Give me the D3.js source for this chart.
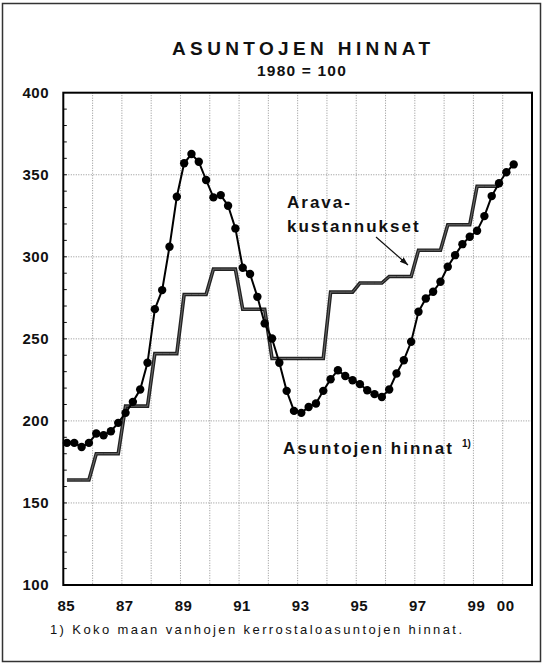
<!DOCTYPE html>
<html>
<head>
<meta charset="utf-8">
<script src="https://cdn.jsdelivr.net/npm/d3@7"></script>
<style>
  body { margin: 0; background: #fff; }
  svg { display: block; }
  text { font-family: "Liberation Sans", Arial, sans-serif; fill: #111; }
</style>
</head>
<body>
<div id="chart"></div>
<script>
// Neljännesvuosisarjat 1985 Q1 ->
const startYear = 1985;

// Asuntojen hinnat (pisteet), 1985 Q1 - 2000 Q2
const priceIndex = [
  186.6, 186.6, 184.1, 186.6, 192.3, 191.3, 193.7, 198.8,
  204.9, 211.6, 219.1, 235.4, 268.1, 279.7, 306.1, 336.6,
  357.0, 362.6, 357.9, 346.8, 336.2, 337.6, 331.1, 317.3,
  293.3, 289.5, 275.6, 259.4, 250.2, 235.4, 218.3, 206.1,
  204.9, 208.5, 210.6, 218.3, 225.4, 230.9, 227.4, 224.8,
  222.4, 218.7, 216.3, 214.6, 219.1, 228.9, 237.0, 248.2,
  266.5, 274.6, 278.7, 284.8, 293.9, 301.0, 307.7, 312.2,
  315.9, 324.8, 337.0, 344.8, 351.5, 356.3
];

// Arava-kustannukset, 1985 Q1 - 1999 Q4
const aravaIndex = [
  164, 164, 164, 164, 180, 180, 180, 180,
  209, 209, 209, 209, 241, 241, 241, 241,
  277, 277, 277, 277, 292.5, 292.5, 292.5, 292.5,
  268, 268, 268, 268, 238, 238, 238, 238,
  238, 238, 238, 238, 278.5, 278.5, 278.5, 278.5,
  284, 284, 284, 284, 288, 288, 288, 288,
  304, 304, 304, 304, 319.5, 319.5, 319.5, 319.5,
  343, 343, 343, 343
];

const yTicks = [100, 150, 200, 250, 300, 350, 400];
const xLabelYears = [1985, 1987, 1989, 1991, 1993, 1995, 1997, 1999, 2000];
const xLabels = ["85", "87", "89", "91", "93", "95", "97", "99", "00"];

const width = 544, height = 665;

const svg = d3.select("#chart").append("svg")
    .attr("width", width).attr("height", height);

const x = d3.scaleLinear().domain([1985, 2001]).range([63.3, 532]);
const y = d3.scaleLinear().domain([100, 400]).range([585, 92.7]);

// kvartaalin keskikohta
const qx = (d, i) => x(startYear + (i + 0.5) / 4);

// ulkokehys
svg.append("rect")
    .attr("x", 2.5).attr("y", 3.5)
    .attr("width", 538).attr("height", 658)
    .attr("fill", "none")
    .attr("stroke", "#333")
    .attr("stroke-width", 1.5);

// Otsikot
svg.append("text")
    .attr("x", 301).attr("y", 55)
    .attr("text-anchor", "middle")
    .attr("font-size", 19).attr("font-weight", "bold")
    .attr("textLength", 258).attr("lengthAdjust", "spacing")
    .text("ASUNTOJEN HINNAT");

svg.append("text")
    .attr("x", 302).attr("y", 76)
    .attr("text-anchor", "middle")
    .attr("font-size", 15.5).attr("font-weight", "bold")
    .style("letter-spacing", "1.2px")
    .text("1980 = 100");

// Ruudukko
const grid = svg.append("g")
    .attr("stroke", "#777")
    .attr("stroke-width", 0.8)
    .attr("stroke-dasharray", "1,1.5");

grid.selectAll(".vgrid")
    .data(d3.range(1986, 2001))
    .enter().append("line")
    .attr("x1", d => x(d)).attr("x2", d => x(d))
    .attr("y1", y(400)).attr("y2", y(100));

grid.selectAll(".hgrid")
    .data(yTicks.slice(1, -1))
    .enter().append("line")
    .attr("x1", x(1985)).attr("x2", x(2001))
    .attr("y1", d => y(d)).attr("y2", d => y(d));

// pienet tikit vasemmalla
svg.append("g").selectAll("line")
    .data(d3.range(110, 400, 10))
    .enter().append("line")
    .attr("x1", x(1985)).attr("x2", x(1985) + 3.5)
    .attr("y1", d => y(d)).attr("y2", d => y(d))
    .attr("stroke", "#111")
    .attr("stroke-width", 1);

// Y-akselin luvut
svg.append("g").selectAll("text")
    .data(yTicks)
    .enter().append("text")
    .attr("x", 49).attr("y", d => y(d))
    .attr("dy", "0.36em")
    .attr("text-anchor", "end")
    .attr("font-size", 15).attr("font-weight", "bold")
    .style("letter-spacing", "0.5px")
    .text(d => d);

// X-akselin luvut
svg.append("g").selectAll("text")
    .data(xLabels)
    .enter().append("text")
    .attr("x", (d, i) => x(xLabelYears[i]) + 3)
    .attr("y", 611)
    .attr("text-anchor", "middle")
    .attr("font-size", 15).attr("font-weight", "bold")
    .style("letter-spacing", "0.5px")
    .text(d => d);

// Arava-kustannukset: paksu tumma viiva
const line = d3.line().x(qx).y(d => y(d));

svg.append("path")
    .datum(aravaIndex)
    .attr("d", line)
    .attr("fill", "none")
    .attr("stroke", "#222")
    .attr("stroke-width", 3.6)
    .attr("stroke-linejoin", "miter");

svg.append("path")
    .datum(aravaIndex)
    .attr("d", line)
    .attr("fill", "none")
    .attr("stroke", "#6a6a6a")
    .attr("stroke-width", 1);

// Asuntojen hinnat
svg.append("path")
    .datum(priceIndex)
    .attr("d", line)
    .attr("fill", "none")
    .attr("stroke", "#000")
    .attr("stroke-width", 2);

svg.append("g").selectAll("circle")
    .data(priceIndex)
    .enter().append("circle")
    .attr("cx", qx)
    .attr("cy", d => y(d))
    .attr("r", 4.2)
    .attr("fill", "#000");

// kehys
svg.append("rect")
    .attr("x", x(1985)).attr("y", y(400))
    .attr("width", x(2001) - x(1985))
    .attr("height", y(100) - y(400))
    .attr("fill", "none")
    .attr("stroke", "#000")
    .attr("stroke-width", 2);

// Selitteet
const lab = svg.append("g")
    .attr("font-size", 17).attr("font-weight", "bold")
    .style("letter-spacing", "2px");

lab.append("text").attr("x", 287).attr("y", 208).text("Arava-");
lab.append("text").attr("x", 287).attr("y", 231.5).text("kustannukset");
lab.append("text").attr("x", 283).attr("y", 454).text("Asuntojen hinnat");

svg.append("text")
    .attr("x", 462).attr("y", 447)
    .attr("font-size", 10).attr("font-weight", "bold")
    .text("1)");

// nuoli
svg.append("defs").append("marker")
    .attr("id", "arrow")
    .attr("viewBox", "0 0 10 10")
    .attr("refX", 10).attr("refY", 5)
    .attr("markerWidth", 7).attr("markerHeight", 7)
    .attr("orient", "auto")
    .append("path")
    .attr("d", "M0,1.5 L10,5 L0,8.5 Z")
    .attr("fill", "#111");

svg.append("line")
    .attr("x1", 376).attr("y1", 237)
    .attr("x2", 408).attr("y2", 265)
    .attr("stroke", "#111")
    .attr("stroke-width", 1.2)
    .attr("marker-end", "url(#arrow)");

// alaviite
svg.append("text")
    .attr("x", 50).attr("y", 634)
    .attr("font-size", 13)
    .attr("textLength", 412).attr("lengthAdjust", "spacing")
    .text("1) Koko maan vanhojen kerrostaloasuntojen hinnat.");
</script>
</body>
</html>
